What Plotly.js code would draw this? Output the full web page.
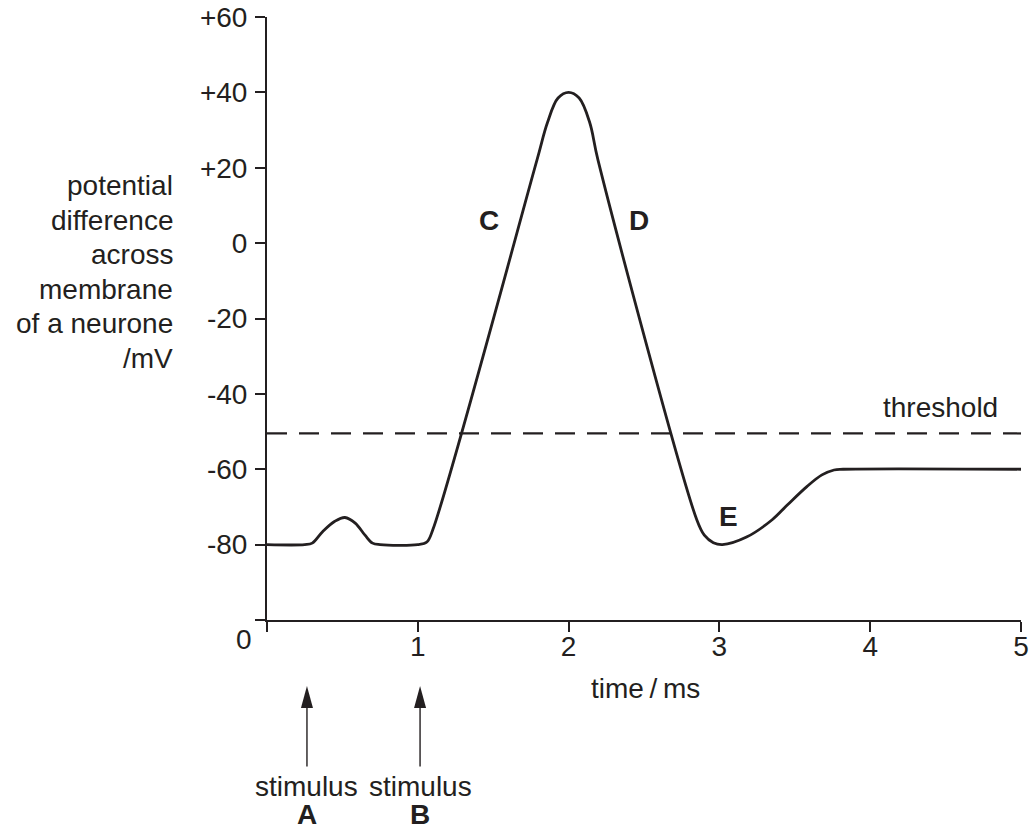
<!DOCTYPE html>
<html>
<head>
<meta charset="utf-8">
<script src="https://cdn.plot.ly/plotly-3.0.1.min.js"></script>
<style>html,body{margin:0;padding:0;background:#fff;}#chart{width:1032px;height:830px;}</style>
</head>
<body>
<div id="chart"></div>
<script>
// ---- data ----
var timeMs = [0, 0.25, 0.30, 0.37, 0.45, 0.517, 0.585, 0.65, 0.70, 0.75, 1.0, 1.06, 1.10, 1.79, 1.86, 1.93, 2.0, 2.07, 2.14, 2.195, 2.85, 2.90, 2.96, 3.02, 3.18, 3.35, 3.45, 3.58, 3.68, 3.76, 3.82, 5.0];
var potentialMv = [-80, -80, -79.6, -76.5, -73.8, -72.8, -74.3, -77.5, -79.6, -80, -80, -79.3, -76, 22, 32, 38.5, 40, 38.5, 32, 22, -73.4, -77.5, -79.5, -80, -78, -73.4, -69.5, -64.6, -61.5, -60.2, -60, -60];
var thresholdX = [0, 5];
var thresholdY = [-50.5, -50.5];
var yTickVals = [60, 40, 20, 0, -20, -40, -60, -80, -100];
var yTickText = ['+60', '+40', '+20', '0', '-20', '-40', '-60', '-80', ''];
var xTickVals = [0, 1, 2, 3, 4, 5];
var xTickText = ['', '1', '2', '3', '4', '5'];
var yTitleLines = ['potential', 'difference', 'across', 'membrane', 'of a neurone', '/mV'];
var xTitle = 'time\u2009/\u2009ms';
var curveLabels = [{t: 'C', x: 1.47, y: 6}, {t: 'D', x: 2.467, y: 6}, {t: 'E', x: 3.057, y: -72.6}];
var thresholdLabel = {t: 'threshold', x: 4.463, y: -43.7};
var stimuli = [{x: 0.265, name: 'A'}, {x: 1.015, name: 'B'}];

// ---- layout helpers (pixel -> paper) ----
var L = 267, R = 1021, T = 17, B = 620;
function px(x) { return (x - L) / (R - L); }
function py(y) { return (B - y) / (B - T); }

var ink = '#231f20';
var fontFam = '"Liberation Sans", Arial, sans-serif';
var fs = 28;
var f = {family: fontFam, size: fs, color: ink};

var traces = [
  {x: thresholdX, y: thresholdY, mode: 'lines', line: {color: ink, width: 2.2, dash: '20px,12px'}, hoverinfo: 'skip'},
  {x: timeMs, y: potentialMv, mode: 'lines', line: {color: ink, width: 2.8, shape: 'spline', smoothing: 1}, hoverinfo: 'skip'}
];

var ann = [];
var shapes = [];
yTitleLines.forEach(function (s, i) {
  ann.push({xref: 'paper', yref: 'paper', x: px(175), y: py(186 + 34.4 * i), xanchor: 'right', yanchor: 'middle',
    text: s, showarrow: false, font: f});
});
curveLabels.forEach(function (c) {
  ann.push({xref: 'x', yref: 'y', x: c.x, y: c.y, xanchor: 'center', yanchor: 'middle', text: '<b>' + c.t + '</b>',
    showarrow: false, font: f});
});
ann.push({xref: 'x', yref: 'y', x: thresholdLabel.x, y: thresholdLabel.y, xanchor: 'center', yanchor: 'middle',
  text: thresholdLabel.t, showarrow: false, font: f});
ann.push({xref: 'paper', yref: 'paper', x: px(244), y: py(639), xanchor: 'center', yanchor: 'middle', text: '0',
  showarrow: false, font: f});
ann.push({xref: 'paper', yref: 'paper', x: px(645), y: py(688), xanchor: 'center', yanchor: 'middle', text: xTitle,
  showarrow: false, font: f});
stimuli.forEach(function (s) {
  // arrow shaft
  ann.push({xref: 'x', yref: 'paper', x: s.x, y: py(700), ax: 0, ay: 68, text: '', showarrow: true,
    arrowhead: 0, arrowwidth: 1.4, arrowcolor: ink, standoff: 0, startstandoff: 0});
  // arrow head
  shapes.push({type: 'path', xref: 'x', yref: 'paper', xsizemode: 'pixel', ysizemode: 'pixel',
    xanchor: s.x, yanchor: py(686), path: 'M0,0 L-6,-22 L6,-22 Z', fillcolor: ink, line: {width: 0}});
  ann.push({xref: 'x', yref: 'paper', x: s.x, y: py(786), xanchor: 'center', yanchor: 'middle', text: 'stimulus',
    showarrow: false, font: f});
  ann.push({xref: 'x', yref: 'paper', x: s.x, y: py(814), xanchor: 'center', yanchor: 'middle', text: '<b>' + s.name + '</b>',
    showarrow: false, font: f});
});

var layout = {
  width: 1032, height: 830,
  margin: {l: L, r: 1032 - R, t: T, b: 830 - B},
  paper_bgcolor: '#fff', plot_bgcolor: '#fff',
  showlegend: false,
  font: f,
  xaxis: {range: [0, 5], tickvals: xTickVals, ticktext: xTickText, ticks: 'outside', ticklen: 10, tickwidth: 2,
    tickcolor: ink, showline: true, linecolor: ink, linewidth: 2, showgrid: false, zeroline: false,
    tickfont: f, ticklabelstandoff: -10},
  yaxis: {range: [-100, 60], tickvals: yTickVals, ticktext: yTickText, ticks: 'outside', ticklen: 10, tickwidth: 2,
    tickcolor: ink, showline: true, linecolor: ink, linewidth: 2, showgrid: false, zeroline: false,
    tickfont: f, ticklabelstandoff: 2},
  annotations: ann,
  shapes: shapes
};

Plotly.newPlot('chart', traces, layout, {staticPlot: true, displayModeBar: false});
</script>
</body>
</html>
